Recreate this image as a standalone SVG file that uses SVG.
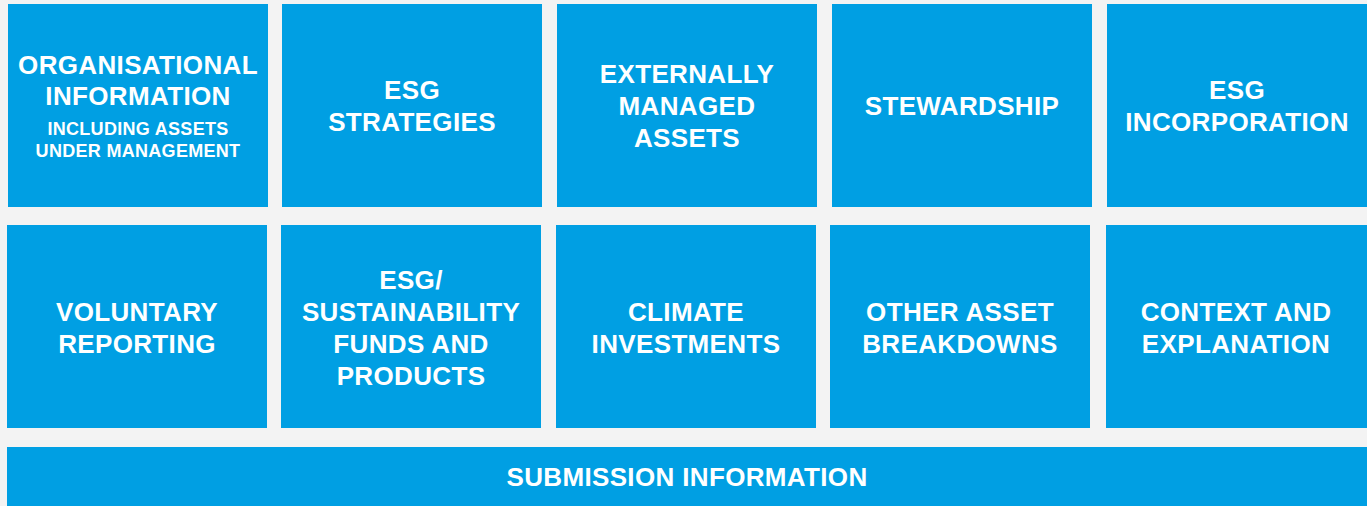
<svg xmlns="http://www.w3.org/2000/svg" width="1367" height="506" viewBox="0 0 1367 506">
  <style>
    .tile { fill: #009FE3; }
    .t { fill: #FFFFFF; font-family: "Liberation Sans", Arial, sans-serif; font-weight: bold; font-size: 26px; letter-spacing: 0.35px; text-anchor: middle; }
    .s { font-size: 18px; letter-spacing: 0.3px; }
  </style>
  <rect x="0" y="0" width="1367" height="506" fill="#F3F3F3"/>

  <!-- top row -->
  <g id="organisational-information">
    <rect class="tile" x="8" y="4" width="260" height="203"/>
    <text class="t" x="138" y="74">ORGANISATIONAL</text>
    <text class="t" x="138" y="105">INFORMATION</text>
    <text class="t s" x="138" y="135">INCLUDING ASSETS</text>
    <text class="t s" x="138" y="157">UNDER MANAGEMENT</text>
  </g>
  <g id="esg-strategies">
    <rect class="tile" x="282" y="4" width="260" height="203"/>
    <text class="t" x="412" y="99">ESG</text>
    <text class="t" x="412" y="131">STRATEGIES</text>
  </g>
  <g id="externally-managed-assets">
    <rect class="tile" x="557" y="4" width="260" height="203"/>
    <text class="t" x="687" y="83">EXTERNALLY</text>
    <text class="t" x="687" y="115">MANAGED</text>
    <text class="t" x="687" y="147">ASSETS</text>
  </g>
  <g id="stewardship">
    <rect class="tile" x="832" y="4" width="260" height="203"/>
    <text class="t" x="962" y="115">STEWARDSHIP</text>
  </g>
  <g id="esg-incorporation">
    <rect class="tile" x="1107" y="4" width="260" height="203"/>
    <text class="t" x="1237" y="99">ESG</text>
    <text class="t" x="1237" y="131">INCORPORATION</text>
  </g>

  <!-- bottom row -->
  <g id="voluntary-reporting">
    <rect class="tile" x="7" y="225" width="260" height="203"/>
    <text class="t" x="137" y="321">VOLUNTARY</text>
    <text class="t" x="137" y="353">REPORTING</text>
  </g>
  <g id="esg-sustainability-funds">
    <rect class="tile" x="281" y="225" width="260" height="203"/>
    <text class="t" x="411" y="289">ESG/</text>
    <text class="t" x="411" y="321">SUSTAINABILITY</text>
    <text class="t" x="411" y="353">FUNDS AND</text>
    <text class="t" x="411" y="385">PRODUCTS</text>
  </g>
  <g id="climate-investments">
    <rect class="tile" x="556" y="225" width="260" height="203"/>
    <text class="t" x="686" y="321">CLIMATE</text>
    <text class="t" x="686" y="353">INVESTMENTS</text>
  </g>
  <g id="other-asset-breakdowns">
    <rect class="tile" x="830" y="225" width="260" height="203"/>
    <text class="t" x="960" y="321">OTHER ASSET</text>
    <text class="t" x="960" y="353">BREAKDOWNS</text>
  </g>
  <g id="context-and-explanation">
    <rect class="tile" x="1106" y="225" width="261" height="203"/>
    <text class="t" x="1236" y="321">CONTEXT AND</text>
    <text class="t" x="1236" y="353">EXPLANATION</text>
  </g>

  <!-- full-width footer band -->
  <g id="submission-information">
    <rect class="tile" x="7" y="447" width="1360" height="59"/>
    <text class="t" x="687" y="486">SUBMISSION INFORMATION</text>
  </g>

  <g id="connectors"/>
</svg>
